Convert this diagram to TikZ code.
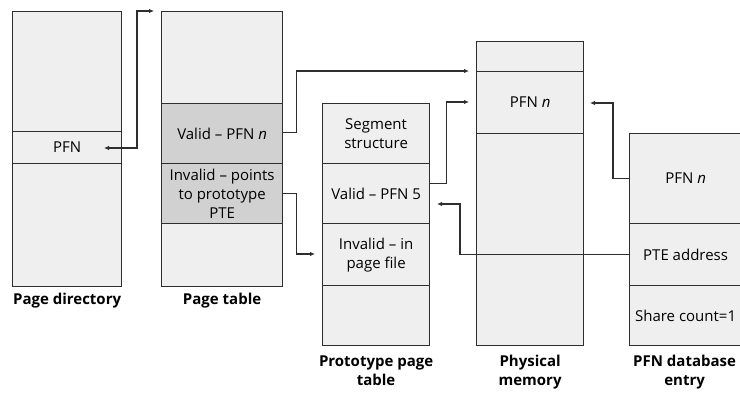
\documentclass[tikz,border=0pt]{standalone}
\usepackage{fontspec}
\setmainfont{Open Sans}
\usetikzlibrary{positioning,arrows.meta}

\definecolor{cellfill}{HTML}{EFEFEF}
\definecolor{darkfill}{HTML}{D1D1D1}
\definecolor{ink}{HTML}{2E2E2E}

\tikzset{
  cell/.style={draw=ink, fill=cellfill, line width=1.2pt, inner sep=0pt,
    anchor=north west, align=center, font=\fontsize{15}{19}\selectfont},
  darkcell/.style={cell, fill=darkfill},
  caption/.style={font=\bfseries\fontsize{15}{19}\selectfont, align=center, inner sep=0pt},
  link/.style={draw=ink, line width=1.1pt, -{Latex[length=5pt,width=4.5pt]}}
}

\begin{document}
\begin{tikzpicture}[x=1pt, y=-1pt]
  \useasboundingbox (0,0) rectangle (740,394);
  \clip (0,0) rectangle (740,394);
  % Page directory: one PFN entry in the middle.
  \node[cell, minimum width=109, minimum height=120] (pd-top) at (12,11) {};
  \node[cell, minimum width=109, minimum height=32] (pd-pfn) at (12,131) {PFN};
  \node[cell, minimum width=109, minimum height=123] (pd-bot) at (12,163) {};
  \node[caption, below=6pt of pd-bot] (pd-cap) {Page directory};
  % Page table: the two shaded entries.
  \node[cell, minimum width=121, minimum height=92] (pt-top) at (161,11) {};
  \node[darkcell, minimum width=121, minimum height=60] (pt-valid) at (161,103) {Valid -- PFN \textit{n}};
  \node[darkcell, minimum width=121, minimum height=60] (pt-invalid) at (161,163)
    {Invalid -- points\\to prototype\\PTE};
  \node[cell, minimum width=121, minimum height=63] (pt-bot) at (161,223) {};
  \node[caption, below=6pt of pt-bot] (pt-cap) {Page table};
  % Prototype page table.
  \node[cell, minimum width=107, minimum height=60] (pp-seg) at (322,103) {Segment\\structure};
  \node[cell, minimum width=107, minimum height=60] (pp-valid) at (322,163) {Valid -- PFN 5};
  \node[cell, minimum width=107, minimum height=62] (pp-invalid) at (322,223) {Invalid -- in\\page file};
  \node[cell, minimum width=107, minimum height=60] (pp-bot) at (322,285) {};
  \node[caption, below=9pt of pp-bot] (pp-cap) {Prototype page\\table};
  % Physical memory.
  \node[cell, minimum width=107, minimum height=30] (pm-top) at (476,41) {};
  \node[cell, minimum width=107, minimum height=62] (pm-pfn) at (476,71) {PFN \textit{n}};
  \node[cell, minimum width=107, minimum height=212] (pm-bot) at (476,133) {};
  \node[caption, below=9pt of pm-bot] (pm-cap) {Physical\\memory};
  % PFN database entry, cut off by the right margin.
  \node[cell, minimum width=112, minimum height=90] (db-pfn) at (629,133) {PFN \textit{n}};
  \node[cell, minimum width=112, minimum height=62] (db-pte) at (629,223) {PTE address};
  \node[cell, minimum width=112, minimum height=60] (db-share) at (629,285) {Share count=1};
  \node[caption, below=9pt of db-share, xshift=-1pt] (db-cap) {PFN database\\entry};
  % Arrow ends.
  \coordinate (pd-ptr) at (104,148);
  \coordinate (pt-in) at (154,11);
  \coordinate (pm-in1) at (469,71);
  \coordinate (pm-in2) at (469,102);
  \coordinate (pp-in1) at (315,254);
  \coordinate (pm-in3) at (590,103);
  \coordinate (pp-in2) at (437,204);
  % Connectors.
  \draw[link, {Latex[length=5pt,width=4.5pt]}-{Latex[length=5pt,width=4.5pt]}]
    (pd-ptr) -- ++(33,0) |- (pt-in);
  \draw[link] ([yshift=1pt]pt-valid.east) -- ++(13,0) |- (pm-in1);
  \draw[link] (pt-invalid.east) -- ++(13,0) |- (pp-in1);
  \draw[link] ([yshift=10pt]pp-valid.east) -- ++(16,0) |- (pm-in2);
  \draw[link] (db-pfn.west) -- ++(-16,0) |- (pm-in3);
  \draw[link] (db-pte.west) -- ++(-169,0) |- (pp-in2);
\end{tikzpicture}
\end{document}
